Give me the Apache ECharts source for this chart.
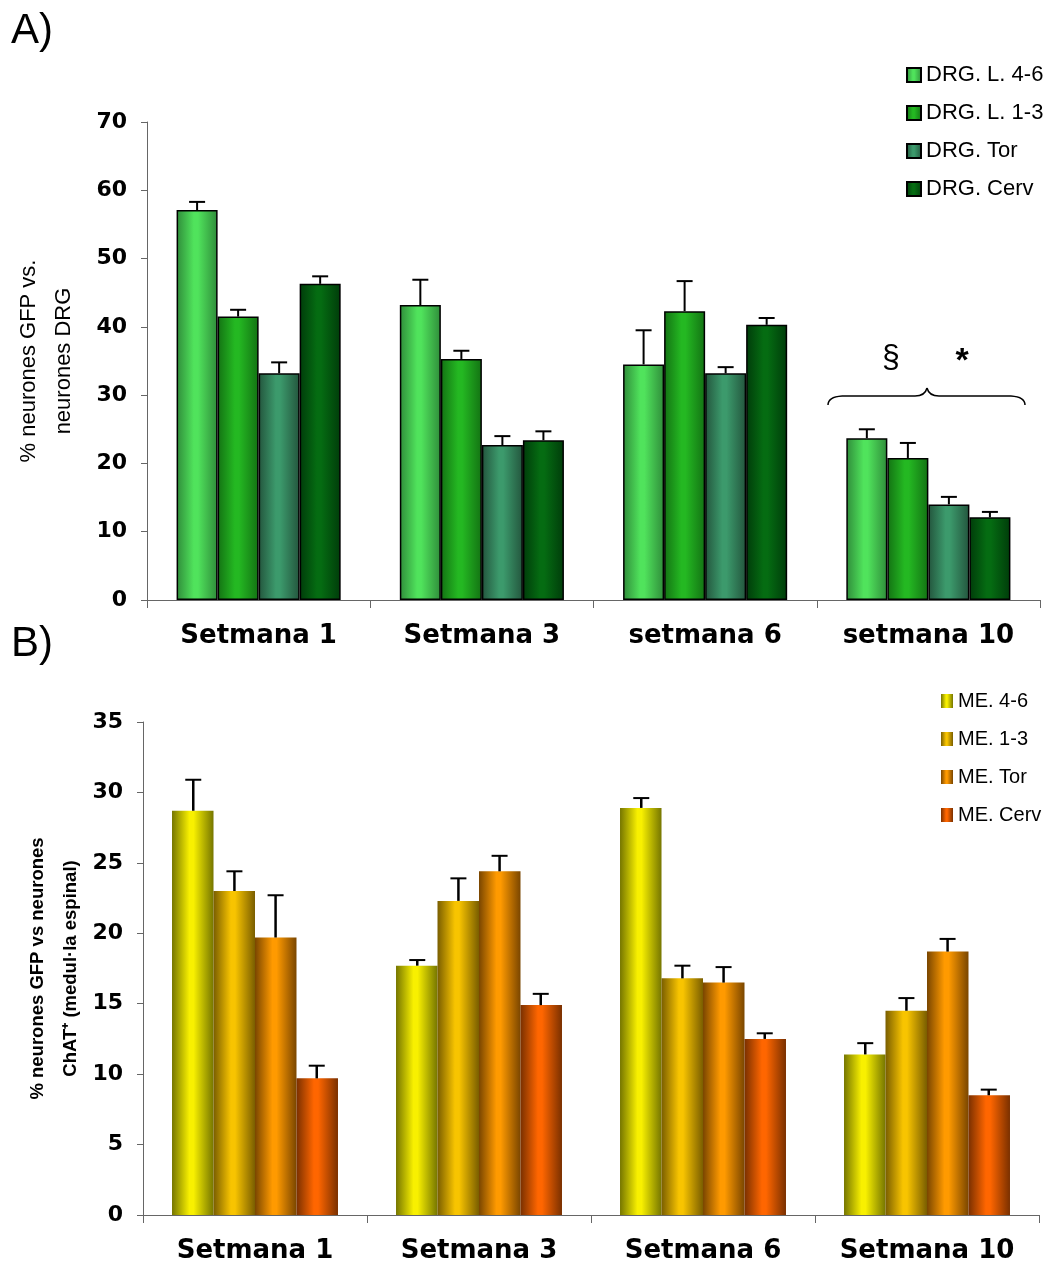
<!DOCTYPE html>
<html>
<head>
<meta charset="utf-8">
<script src="https://cdn.jsdelivr.net/npm/echarts@6/dist/echarts.min.js"></script>
<style>
html,body{margin:0;padding:0;background:#fff;}
#chart{width:1056px;height:1267px;}
</style>
</head>
<body>
<div id="chart"></div>
<script>
// ---------- DATA ----------
const catsA = ['Setmana 1', 'Setmana 3', 'setmana 6', 'setmana 10'];
const namesA = ['DRG. L. 4-6', 'DRG. L. 1-3', 'DRG. Tor', 'DRG. Cerv'];
const drgL46  = [57.1, 43.2, 34.5, 23.7];
const drgL13  = [41.5, 35.3, 42.3, 20.8];
const drgTor  = [33.2, 22.7, 33.2, 14.0];
const drgCerv = [46.3, 23.4, 40.3, 12.1];
const errL46  = [1.2, 3.7, 5.0, 1.3];
const errL13  = [1.0, 1.2, 4.4, 2.2];
const errTor  = [1.6, 1.3, 0.9, 1.1];
const errCerv = [1.1, 1.3, 1.0, 0.8];

const catsB = ['Setmana 1', 'Setmana 3', 'Setmana 6', 'Setmana 10'];
const namesB = ['ME. 4-6', 'ME. 1-3', 'ME. Tor', 'ME. Cerv'];
const me46  = [28.7, 17.7, 28.9, 11.4];
const me13  = [23.0, 22.3, 16.8, 14.5];
const meTor = [19.7, 24.4, 16.5, 18.7];
const meCerv= [9.7, 14.9, 12.5, 8.5];
const errMe46  = [2.2, 0.4, 0.7, 0.8];
const errMe13  = [1.4, 1.6, 0.9, 0.9];
const errMeTor = [3.0, 1.1, 1.1, 0.9];
const errMeCerv= [0.9, 0.8, 0.4, 0.4];

const ticksA = {min: 0, max: 70, interval: 10};
const ticksB = {min: 0, max: 35, interval: 5};

// ---------- STYLE ----------
const valsA = [drgL46, drgL13, drgTor, drgCerv];
const errsA = [errL46, errL13, errTor, errCerv];
const valsB = [me46, me13, meTor, meCerv];
const errsB = [errMe46, errMe13, errMeTor, errMeCerv];

function grad(edge, center) {
  return {type: 'linear', x: 0, y: 0, x2: 1, y2: 0, colorStops: [
    {offset: 0, color: edge},
    {offset: 0.42, color: center},
    {offset: 0.52, color: center},
    {offset: 1, color: edge}
  ]};
}
const colA = [grad('#2f8c3a', '#50e35c'), grad('#137213', '#24b822'), grad('#23553d', '#3c9a6c'), grad('#003c0a', '#056c12')];
const colB = [grad('#767600', '#f8f000'), grad('#7a5e00', '#f8c400'), grad('#7a4600', '#ff9a00'), grad('#7a3000', '#ff6600')];

const GAP = 0.265;
const tickFont = {fontFamily: 'DejaVu Sans', fontWeight: 'bold', color: '#000'};

function errSeries(vals, errs, xi, yi, lw) {
  const data = [];
  vals.forEach((arr, s) => arr.forEach((v, c) => data.push([c, v, v + errs[s][c], s])));
  return {
    type: 'custom', xAxisIndex: xi, yAxisIndex: yi, z: 5, silent: true,
    data: data,
    renderItem: function (params, api) {
      const c = api.value(0), s = api.value(3);
      const catW = api.size([1, 0])[0];
      const bw = catW * (1 - GAP) / 4;
      const base = api.coord([c, api.value(1)]);
      const top = api.coord([c, api.value(2)]);
      const x = base[0] + (s - 1.5) * bw;
      return {type: 'group', children: [
        {type: 'line', shape: {x1: x, y1: base[1], x2: x, y2: top[1]}, style: {stroke: '#000', lineWidth: lw}},
        {type: 'line', shape: {x1: x - 8, y1: top[1], x2: x + 8, y2: top[1]}, style: {stroke: '#000', lineWidth: 2}}
      ]};
    }
  };
}

const series = [];
valsA.forEach((arr, i) => series.push({
  type: 'bar', name: namesA[i], xAxisIndex: 0, yAxisIndex: 0, data: arr,
  barGap: '0%', barCategoryGap: (GAP * 100) + '%',
  itemStyle: {color: colA[i], borderColor: '#000', borderWidth: 1.5}
}));
valsB.forEach((arr, i) => series.push({
  type: 'bar', name: namesB[i], xAxisIndex: 1, yAxisIndex: 1, data: arr,
  barGap: '0%', barCategoryGap: '25.9%',
  itemStyle: {color: colB[i]}
}));
series.push(errSeries(valsA, errsA, 0, 0, 2));
series.push(errSeries(valsB, errsB, 1, 1, 2.5));

function xAx(cats, gi) {
  return {
    type: 'category', gridIndex: gi, data: cats,
    axisLine: {lineStyle: {color: '#666', width: 1}},
    axisTick: {show: true, length: 8, interval: 0, lineStyle: {color: '#666'}},
    axisLabel: Object.assign({fontSize: 26, margin: 23, interval: 0, hideOverlap: false}, tickFont)
  };
}
function yAx(t, gi, name, nameStyle, gap) {
  return {
    type: 'value', gridIndex: gi, min: t.min, max: t.max, interval: t.interval,
    splitLine: {show: false},
    axisLine: {show: true, lineStyle: {color: '#666', width: 1}},
    axisTick: {show: true, length: 6, lineStyle: {color: '#666'}},
    axisLabel: Object.assign({fontSize: 22, margin: 20}, tickFont),
    name: name, nameLocation: 'middle', nameRotate: 90, nameGap: gap,
    nameMoveOverlap: false,
    nameTextStyle: nameStyle
  };
}

const bst = {fill: null, stroke: '#000', lineWidth: 1.5};
const option = {
  animation: false,
  backgroundColor: '#fff',
  grid: [
    {left: 147, right: 16, top: 122, bottom: 667},
    {left: 143, right: 17, top: 722, bottom: 52}
  ],
  xAxis: [xAx(catsA, 0), xAx(catsB, 1)],
  yAxis: [
    yAx(ticksA, 0, '% neurones GFP vs.\nneurones DRG',
      {fontFamily: 'Liberation Sans', fontSize: 22, color: '#000', lineHeight: 35, align: 'center'}, 66),
    yAx(ticksB, 1, '% neurones GFP vs neurones\nChAT\u207A (medul\u00B7la espinal)',
      {fontFamily: 'Liberation Sans', fontWeight: 'bold', fontSize: 18.5, color: '#000', lineHeight: 33, align: 'center'}, 56)
  ],
  legend: [
    {data: namesA, orient: 'vertical', left: 901, top: 59, icon: 'rect', itemWidth: 14, itemHeight: 14,
      itemGap: 16, textStyle: {fontFamily: 'Liberation Sans', fontSize: 22, color: '#000', lineHeight: 20}},
    {data: namesB, orient: 'vertical', left: 936, top: 686, icon: 'rect', itemWidth: 12, itemHeight: 14,
      itemGap: 18, textStyle: {fontFamily: 'Liberation Sans', fontSize: 20, color: '#000', lineHeight: 20}}
  ],
  graphic: [
    {type: 'text', left: 11, top: 10, style: {text: 'A)', font: '42px "Liberation Sans"', fill: '#000'}},
    {type: 'text', left: 11, top: 623, style: {text: 'B)', font: '42px "Liberation Sans"', fill: '#000'}},
    {type: 'bezierCurve', shape: {x1: 828, y1: 405, x2: 842, y2: 396, cpx1: 828, cpy1: 397}, style: bst},
    {type: 'line', shape: {x1: 842, y1: 396, x2: 915, y2: 396}, style: bst},
    {type: 'bezierCurve', shape: {x1: 915, y1: 396, x2: 927, y2: 388, cpx1: 925, cpy1: 396}, style: bst},
    {type: 'bezierCurve', shape: {x1: 927, y1: 388, x2: 939, y2: 396, cpx1: 929, cpy1: 396}, style: bst},
    {type: 'line', shape: {x1: 939, y1: 396, x2: 1011, y2: 396}, style: bst},
    {type: 'bezierCurve', shape: {x1: 1011, y1: 396, x2: 1025, y2: 405, cpx1: 1025, cpy1: 397}, style: bst},
    {type: 'text', x: 891, y: 358, style: {text: '\u00A7', font: '32px "Liberation Sans"', fill: '#000', align: 'center', verticalAlign: 'middle'}},
    {type: 'text', x: 962, y: 362, style: {text: '*', font: 'bold 34px "Liberation Sans"', fill: '#000', align: 'center', verticalAlign: 'middle'}}
  ],
  series: series
};

const chart = echarts.init(document.getElementById('chart'), null, {renderer: 'canvas'});
chart.setOption(option);
</script>
</body>
</html>
